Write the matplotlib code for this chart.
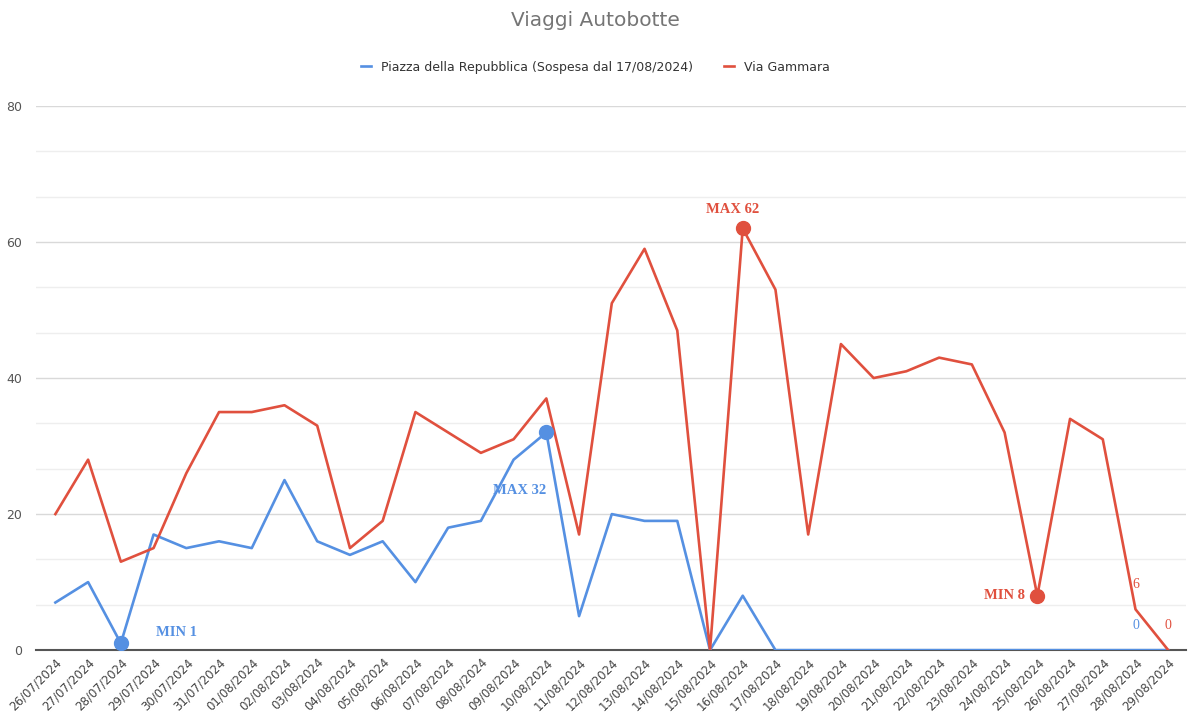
import matplotlib
matplotlib.use('Agg')
import matplotlib.pyplot as plt
from matplotlib.ticker import MultipleLocator

# Date del periodo
dates = ['26/07/2024', '27/07/2024', '28/07/2024', '29/07/2024', '30/07/2024', '31/07/2024',
         '01/08/2024', '02/08/2024', '03/08/2024', '04/08/2024', '05/08/2024', '06/08/2024',
         '07/08/2024', '08/08/2024', '09/08/2024', '10/08/2024', '11/08/2024', '12/08/2024',
         '13/08/2024', '14/08/2024', '15/08/2024', '16/08/2024', '17/08/2024', '18/08/2024',
         '19/08/2024', '20/08/2024', '21/08/2024', '22/08/2024', '23/08/2024', '24/08/2024',
         '25/08/2024', '26/08/2024', '27/08/2024', '28/08/2024', '29/08/2024']

# Viaggi per punto di distribuzione
piazza = [7, 10, 1, 17, 15, 16, 15, 25, 16, 14, 16, 10, 18, 19, 28, 32, 5, 20, 19, 19,
          0, 8, 0, 0, 0, 0, 0, 0, 0, 0, 0, 0, 0, 0, 0]
gammara = [20, 28, 13, 15, 26, 35, 35, 36, 33, 15, 19, 35, 32, 29, 31, 37, 17, 51, 59, 47,
           0, 62, 53, 17, 45, 40, 41, 43, 42, 32, 8, 34, 31, 6, 0]

label_piazza = 'Piazza della Repubblica (Sospesa dal 17/08/2024)'
label_gammara = 'Via Gammara'

BLUE = '#5590e2'
RED = '#e0503e'

x = list(range(len(dates)))

fig = plt.figure(figsize=(11.91, 7.16), dpi=100)
ax = fig.add_axes([0.030, 0.092, 0.966, 0.760])

ax.plot(x, piazza, color=BLUE, lw=1.9, label=label_piazza, zorder=3)
ax.plot(x, gammara, color=RED, lw=1.9, label=label_gammara, zorder=3)

# Punti min / max
i_min_b = piazza[:16].index(min(piazza[:16]))
i_max_b = piazza.index(max(piazza))
i_max_r = gammara.index(max(gammara))
i_min_r = 30
ax.plot([i_min_b, i_max_b], [piazza[i_min_b], piazza[i_max_b]], 'o', color=BLUE, ms=10, zorder=4)
ax.plot([i_max_r, i_min_r], [gammara[i_max_r], gammara[i_min_r]], 'o', color=RED, ms=10, zorder=4)

serif = dict(family='Liberation Serif', fontweight='bold', fontsize=10.5)
ax.annotate(f'MIN {piazza[i_min_b]}', (i_min_b, piazza[i_min_b]), xytext=(25, 3),
            textcoords='offset points', color=BLUE, ha='left', va='bottom', **serif)
ax.annotate(f'MAX {piazza[i_max_b]}', (i_max_b, piazza[i_max_b]), xytext=(0, -42),
            textcoords='offset points', color=BLUE, ha='right', va='center', **serif)
ax.annotate(f'MAX {gammara[i_max_r]}', (i_max_r, gammara[i_max_r]), xytext=(-7, 9),
            textcoords='offset points', color=RED, ha='center', va='bottom', **serif)
ax.annotate(f'MIN {gammara[i_min_r]}', (i_min_r, gammara[i_min_r]), xytext=(-9, 0),
            textcoords='offset points', color=RED, ha='right', va='center', **serif)

# Etichette finali
small = dict(family='Liberation Serif', fontsize=10)
ax.annotate(str(gammara[33]), (33, gammara[33]), xytext=(0, 18), textcoords='offset points',
            color=RED, ha='center', va='center', **small)
ax.annotate(str(piazza[33]), (33, piazza[33]), xytext=(0, 18), textcoords='offset points',
            color=BLUE, ha='center', va='center', **small)
ax.annotate(str(gammara[34]), (34, gammara[34]), xytext=(0, 18), textcoords='offset points',
            color=RED, ha='center', va='center', **small)

ax.set_xlim(-0.6, 34.55)
ax.set_ylim(0, 80)
ax.yaxis.set_major_locator(MultipleLocator(20))
ax.yaxis.set_minor_locator(MultipleLocator(20 / 3))
ax.grid(axis='y', which='major', color='#d9d9d9', lw=1)
ax.grid(axis='y', which='minor', color='#eeeeee', lw=1)
ax.set_axisbelow(True)
for s in ['top', 'right', 'left']:
    ax.spines[s].set_visible(False)
ax.spines['bottom'].set_color('#555555')
ax.spines['bottom'].set_linewidth(1.5)

ax.set_xticks(x)
ax.set_xticklabels(dates, rotation=45, ha='right', rotation_mode='anchor', fontsize=8.5, color='#444444')
ax.tick_params(axis='x', length=0, pad=4)
ax.tick_params(axis='y', which='both', length=0, labelsize=9, labelcolor='#555555', pad=10)

fig.text(0.5, 0.972, 'Viaggi Autobotte', ha='center', va='center', fontsize=14.5, color='#757575')
fig.legend(loc='center', bbox_to_anchor=(0.5, 0.906), ncol=2, frameon=False, fontsize=9,
           handlelength=0.8, handletextpad=0.8, columnspacing=2.5, labelcolor='#333333')

fig.savefig('out.png', dpi=100)
